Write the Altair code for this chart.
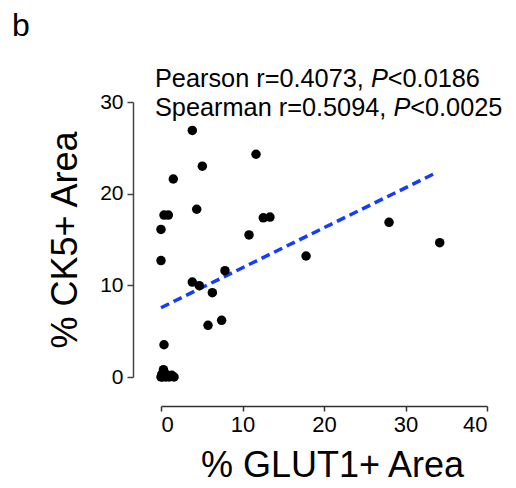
import altair as alt
import pandas as pd

# Data
glut1 = [3.84, 11.66, 5.07, 1.51, 0.37, 0.90, 4.38, 0.00, 12.55, 13.37, 10.80,
         0.00, 17.80, 7.85, 3.84, 4.70, 6.30, 7.44, 5.77, 0.37, 27.98, 34.20,
         0.00, 0.10, 0.20, 0.30, 0.50, 0.60, 0.80, 1.00, 1.30, 1.60, 0.40]
ck5 = [26.9, 24.3, 23.0, 21.6, 17.67, 17.67, 18.3, 16.1, 17.37, 17.45, 15.5,
       12.7, 13.2, 11.6, 10.36, 9.96, 9.2, 6.18, 5.64, 3.52, 16.87, 14.65,
       0.0, 0.3, 0.0, 0.8, 0.4, 0.0, 0.1, 0.0, 0.2, 0.0, 0.1]
fit_x = [0.0, 33.8]
fit_y = [7.56, 22.3]
x_ticks = [0, 10, 20, 30, 40]
y_ticks = [0, 10, 20, 30]

FONT = "Liberation Sans"
pts = pd.DataFrame({"glut1": glut1, "ck5": ck5})
fit = pd.DataFrame({"glut1": fit_x, "ck5": fit_y})

xscale = alt.Scale(domain=[0, 40], nice=False, zero=False)
yscale = alt.Scale(domain=[0, 30], nice=False, zero=False)

xaxis = alt.Axis(title="% GLUT1+ Area", values=x_ticks, offset=29, grid=False,
                 tickSize=5, tickWidth=1.5, domainWidth=1.5,
                 domainColor="#333333", tickColor="#333333",
                 labelFont=FONT, labelFontSize=22, labelColor="black", labelPadding=3,
                 titleFont=FONT, titleFontSize=36, titleFontWeight="normal",
                 titleColor="black", titlePadding=13, titleX=171)
yaxis = alt.Axis(title="% CK5+ Area", values=y_ticks, offset=28, grid=False,
                 tickSize=6, tickWidth=1.5, domainWidth=1.5,
                 domainColor="#444444", tickColor="#444444",
                 labelFont=FONT, labelFontSize=21, labelColor="black", labelPadding=4,
                 titleFont=FONT, titleFontSize=36, titleFontWeight="normal",
                 titleColor="black", titlePadding=15)

points = alt.Chart(pts).mark_circle(size=90, color="black", opacity=1).encode(
    x=alt.X("glut1:Q", scale=xscale, axis=xaxis),
    y=alt.Y("ck5:Q", scale=yscale, axis=yaxis),
)

line = alt.Chart(fit).mark_line(color="#143cff", strokeWidth=3.5, strokeDash=[9, 5]).encode(
    x=alt.X("glut1:Q", scale=xscale),
    y=alt.Y("ck5:Q", scale=yscale),
)

FS = 25.3
def txt(s, x, y, italic=False, size=FS):
    return alt.Chart(pd.DataFrame({"t": [s]})).mark_text(
        align="left", baseline="alphabetic", font=FONT, fontSize=size,
        fontStyle="italic" if italic else "normal", color="black",
    ).encode(text="t:N", x=alt.value(x), y=alt.value(y))

x0 = -6
w1 = 8533 / 1000 * FS
w2 = 9422 / 1000 * FS
wp = 667 / 1000 * FS
texts = [
    txt("Pearson r=0.4073, ", x0, -15),
    txt("P", x0 + w1, -15, italic=True),
    txt("<0.0186", x0 + w1 + wp, -15),
    txt("Spearman r=0.5094, ", x0, 14),
    txt("P", x0 + w2, 14, italic=True),
    txt("<0.0025", x0 + w2 + wp, 14),
    txt("b", -149, -66, size=32),
]

chart = alt.layer(line, points, *texts).properties(
    width=326, height=275,
    autosize=alt.AutoSizeParams(type="none"),
    padding={"left": 161, "top": 102, "right": 29, "bottom": 111},
).configure_view(stroke=None)

chart.save("out.html", embed_options={"renderer": "svg", "actions": False})
